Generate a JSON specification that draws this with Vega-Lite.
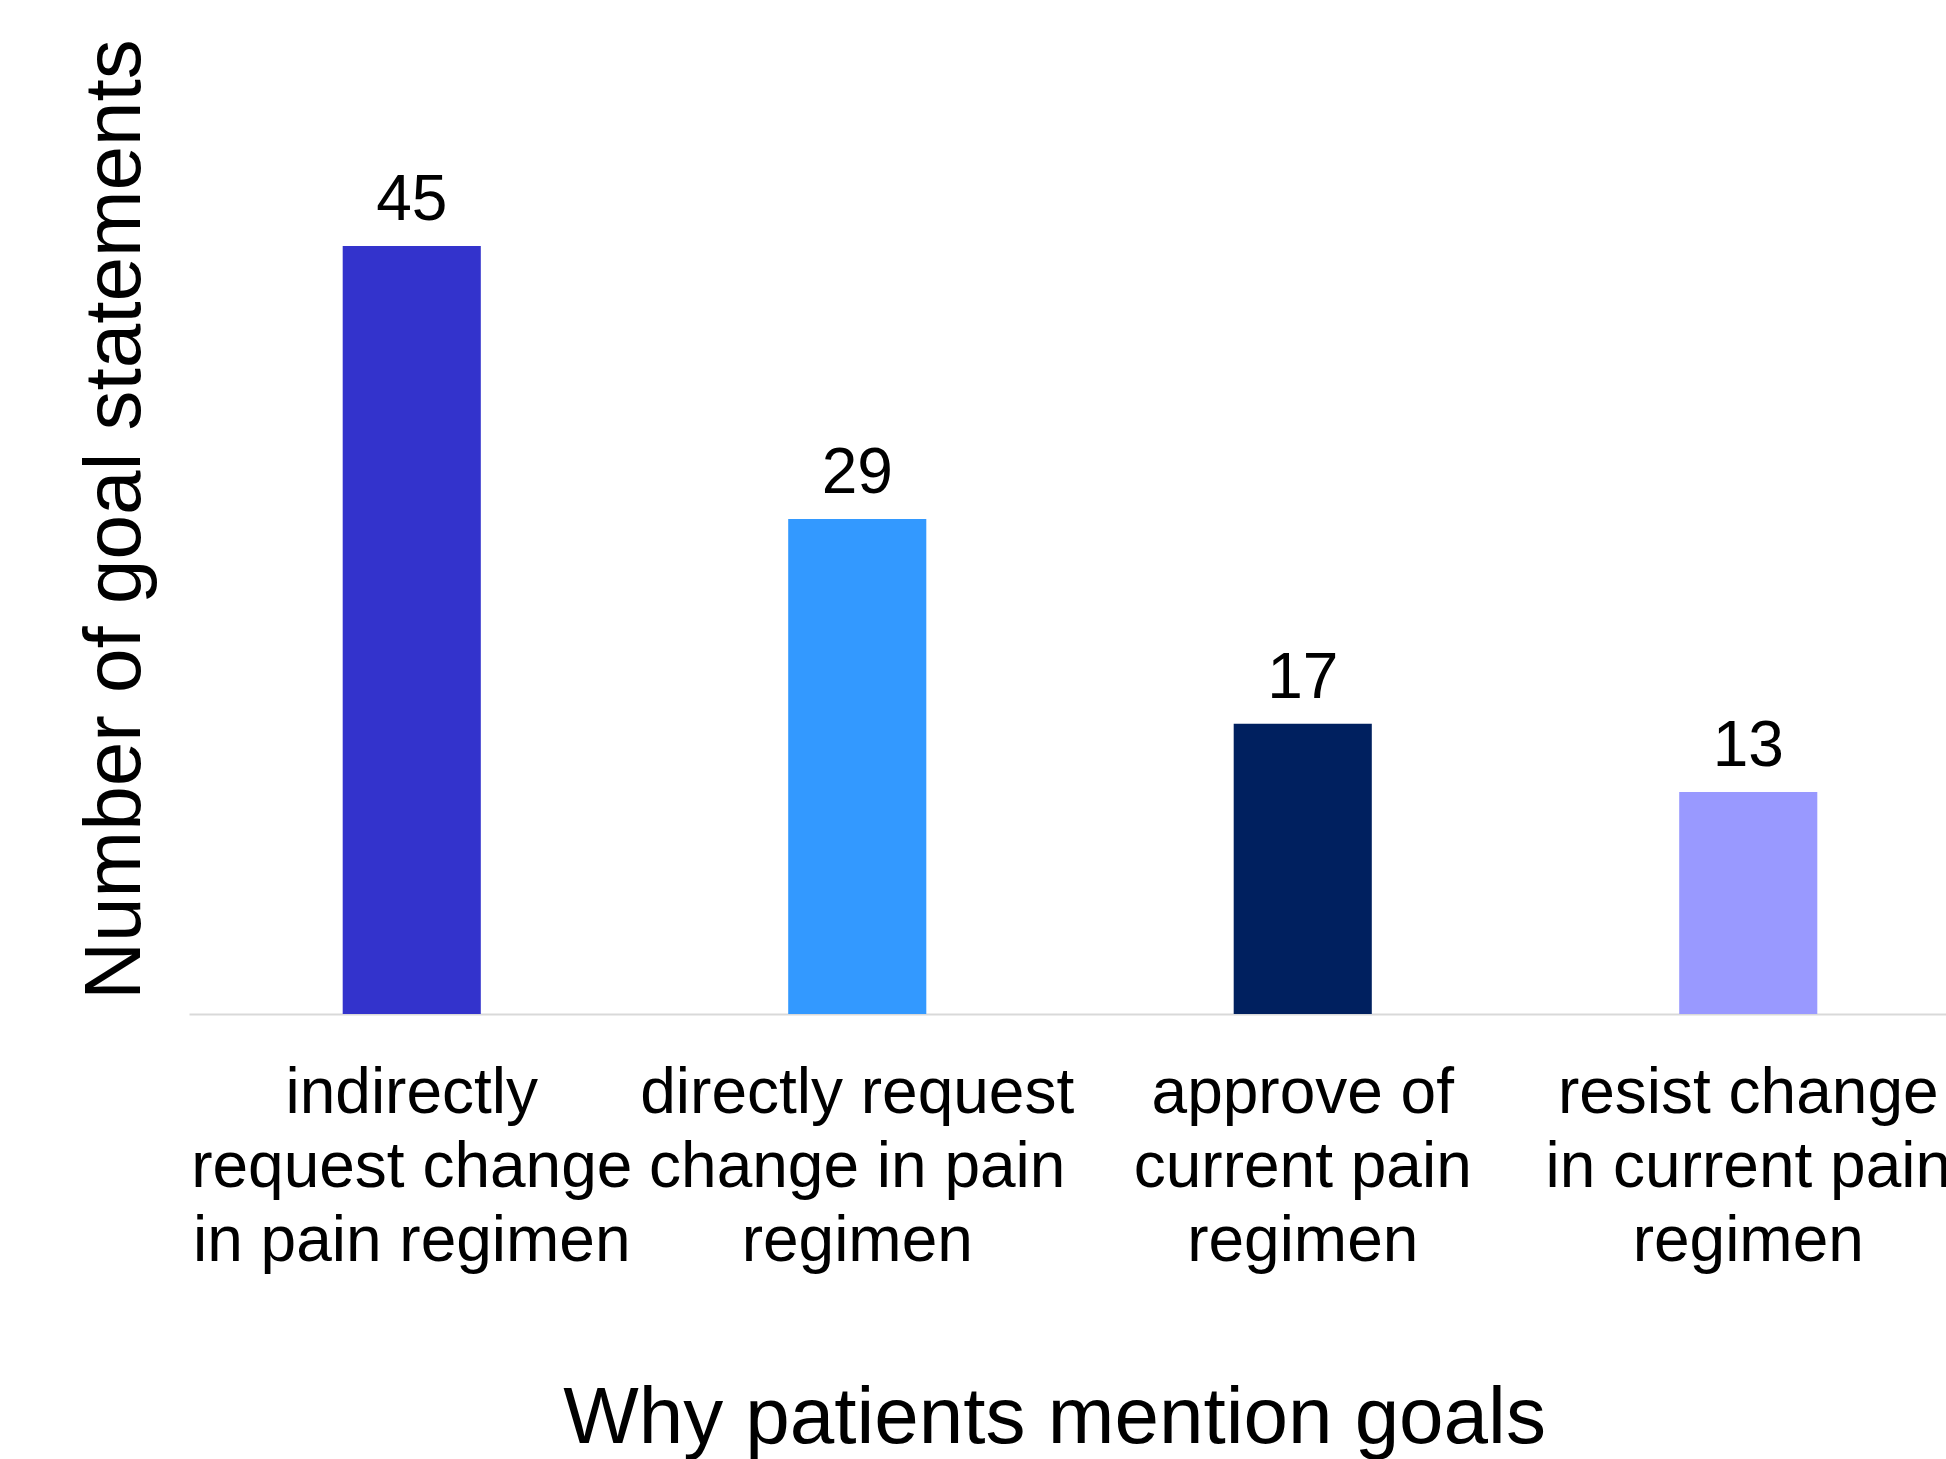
{
  "$schema": "https://vega.github.io/schema/vega-lite/v6.json",
  "autosize": {"type": "none"},
  "padding": {"left": 189, "top": 24, "right": 0, "bottom": 445},
  "width": 1782,
  "height": 990,
  "background": "white",
  "config": {
    "view": {"stroke": null},
    "font": "Liberation Sans"
  },
  "data": {
    "values": [
      {"reason": "indirectly|request change|in pain regimen", "count": 45, "color": "#3333CC"},
      {"reason": "directly request|change in pain|regimen", "count": 29, "color": "#3399FF"},
      {"reason": "approve of|current pain|regimen", "count": 17, "color": "#00205F"},
      {"reason": "resist change|in current pain|regimen", "count": 13, "color": "#9999FF"}
    ]
  },
  "encoding": {
    "x": {
      "field": "reason",
      "type": "nominal",
      "sort": null,
      "scale": {"paddingInner": 0.69, "paddingOuter": 0.345},
      "axis": {
        "title": "Why patients mention goals",
        "titleFontSize": 80,
        "titleFontWeight": "normal",
        "titleColor": "black",
        "titlePadding": 165,
        "titleX": 865,
        "titleAlign": "center",
        "labelExpr": "split(datum.label, '|')",
        "labelAngle": 0,
        "labelFontSize": 64,
        "labelLineHeight": 74,
        "labelColor": "black",
        "labelPadding": 47,
        "labelLimit": 0,
        "ticks": false,
        "domainColor": "#D9D9D9",
        "domainWidth": 2
      }
    },
    "y": {
      "field": "count",
      "type": "quantitative",
      "scale": {"domain": [0, 58], "nice": false},
      "axis": {
        "title": "Number of goal statements",
        "titleFontSize": 80,
        "titleFontWeight": "normal",
        "titleColor": "black",
        "titlePadding": 33,
        "labels": false,
        "ticks": false,
        "domain": false,
        "grid": false
      }
    }
  },
  "layer": [
    {
      "mark": {"type": "bar"},
      "encoding": {
        "color": {"field": "color", "type": "nominal", "scale": null, "legend": null}
      }
    },
    {
      "mark": {"type": "text", "baseline": "alphabetic", "dy": -26, "fontSize": 64, "color": "black"},
      "encoding": {
        "text": {"field": "count", "type": "quantitative"}
      }
    }
  ]
}
